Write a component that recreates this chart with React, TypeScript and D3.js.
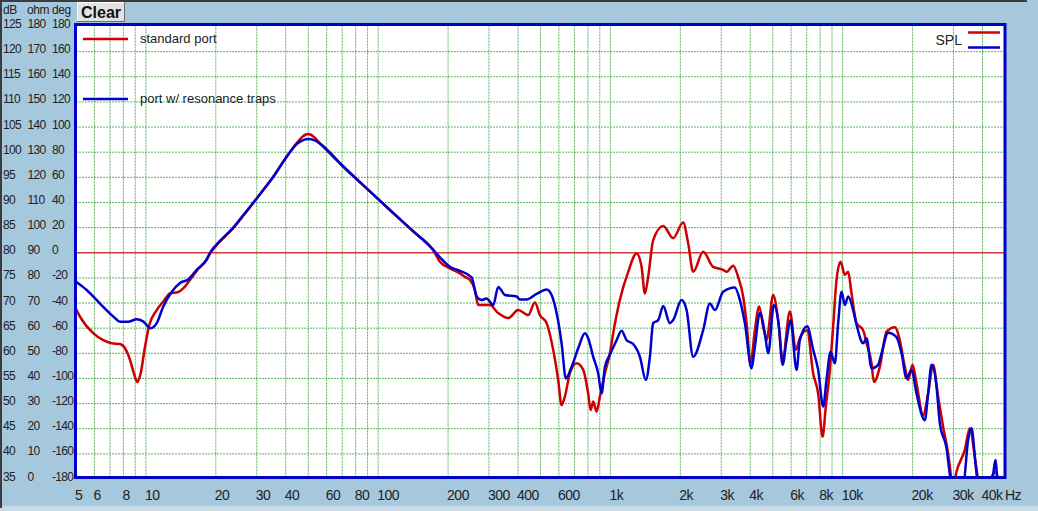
import React from 'react';
import * as d3 from 'd3';

const W = 1038;
const H = 511;

// ---- data (Hz, dB) ----
const redFreq = [5, 5.2, 5.93, 6.55, 7.12, 7.73, 8.13, 8.54, 8.88, 9.18, 9.49, 9.91, 10.34, 11.13, 11.88, 12.69, 13.78, 14.48, 15.48, 16.54, 18.26, 18.87, 21, 23.77, 26.5, 29.98, 35.35, 40.36, 44.58, 47, 50, 53, 56.1, 70.7, 89.2, 112.4, 141.6, 172.6, 184.5, 203.7, 224.9, 236.3, 248.4, 261, 269.6, 302.8, 328.7, 363.1, 400.9, 442.6, 473, 497, 531.2, 567, 595.9, 616.3, 636.8, 669, 715.1, 763.5, 802.2, 821.7, 843.2, 871.9, 901.1, 946.7, 994.9, 1028, 1098, 1193, 1296, 1362, 1407, 1454, 1528, 1688, 1863, 2057, 2162, 2272, 2508, 2769, 3059, 3164, 3376, 3548, 3729, 3857, 4013, 4187, 4370, 4547, 4702, 5020, 5275, 5511, 5923, 6288, 6539, 7028, 7465, 7843, 8194, 8463, 8808, 9099, 9411, 9792, 10220, 10560, 10920, 11475, 12250, 12674, 13315, 13624, 14456, 15452, 16773, 17625, 18524, 19140, 19991, 20796, 22205, 23334, 24521, 25762, 27072, 28445, 29423, 29900, 30917, 33564, 35270, 37067, 38300, 39500, 42500, 43745, 45954, 47014, 50000];
const redDb = [68.8, 67.3, 64.0, 62.6, 62.0, 61.85, 61.0, 58.7, 56.0, 54.3, 56.0, 61.3, 65.6, 68.6, 70.3, 71.9, 72.2, 72.9, 74.6, 76.4, 78.6, 79.8, 82.4, 84.9, 87.6, 90.8, 95.1, 99.1, 101.8, 103.0, 103.6, 103.0, 101.8, 97.1, 92.8, 88.5, 84.2, 80.5, 78.2, 76.9, 75.9, 75.2, 74.6, 72.6, 69.6, 69.6, 68.0, 67.0, 68.6, 67.6, 70.1, 67.6, 66.0, 60.7, 54.7, 49.7, 51.4, 56.0, 58.0, 56.7, 52.0, 48.7, 50.4, 48.4, 51.4, 56.0, 60.0, 64.0, 70.6, 76.2, 79.85, 77.2, 71.9, 75.2, 82.5, 85.3, 82.9, 86.0, 81.9, 76.2, 80.2, 77.2, 76.6, 76.2, 77.4, 75.2, 71.3, 66.0, 58.0, 64.6, 69.3, 65.3, 62.6, 71.6, 66.6, 58.7, 68.3, 60.7, 63.0, 64.6, 56.0, 52.0, 43.4, 49.4, 56.7, 65.3, 74.6, 78.2, 75.6, 76.2, 71.9, 66.0, 64.6, 62.0, 58.0, 54.3, 57.3, 64.3, 65.2, 62.6, 57.3, 54.7, 57.7, 54.0, 47.7, 52.0, 57.7, 51.4, 45.4, 40.1, 35.0, 33.5, 36.5, 40.8, 45.1, 39.4, 35.0, 33.0, 33.5, 35.4, 36.5, 33.0, 32.0];

const blueFreq = [5, 5.56, 6.34, 7.24, 7.73, 8.4, 9.13, 9.75, 10.48, 11.13, 11.88, 12.91, 14.02, 15.22, 16.54, 18.26, 18.87, 21, 23.77, 26.5, 29.98, 35.35, 40.36, 44.58, 47, 50, 53, 56.1, 70.7, 89.2, 112.4, 141.6, 172.6, 184.5, 203.7, 224.9, 252.6, 265.4, 278.9, 293.1, 312.9, 328.7, 351.5, 394.6, 407.7, 435.6, 481, 531.2, 558.2, 586.5, 616.3, 643.1, 680.5, 726.6, 776.5, 802.2, 843.2, 886, 916.2, 946.7, 994.9, 1063, 1117, 1174, 1253, 1340, 1421, 1479, 1528, 1606, 1688, 1803, 1863, 2025, 2128, 2272, 2508, 2680, 2817, 3059, 3434, 3609, 3792, 4053, 4187, 4400, 4624, 4778, 5055, 5326, 5511, 5734, 5964, 6331, 6539, 7028, 7465, 7843, 8243, 8521, 8869, 9254, 9562, 9890, 10220, 10560, 11095, 11543, 12250, 12674, 13315, 14217, 14701, 15699, 17058, 17927, 18837, 19795, 20796, 22581, 23334, 24134, 25357, 26201, 28003, 29133, 30000, 33000, 34677, 35874, 37433, 38300, 43500, 45637, 46553, 50000];
const blueDb = [74.25, 72.6, 69.9, 67.3, 66.3, 66.3, 66.75, 66.3, 65.0, 66.0, 69.3, 72.2, 74.0, 74.7, 76.6, 78.7, 80.0, 82.5, 85.0, 87.7, 90.8, 95.1, 99.1, 101.6, 102.3, 102.6, 102.4, 101.7, 97.2, 92.8, 88.5, 84.3, 80.6, 79.1, 77.2, 76.4, 75.1, 71.3, 70.6, 70.9, 69.6, 73.2, 71.6, 71.3, 70.7, 70.7, 71.8, 72.7, 71.6, 68.0, 62.0, 55.0, 57.3, 61.0, 64.0, 63.0, 59.3, 56.0, 52.0, 57.3, 59.7, 62.6, 64.5, 62.6, 61.85, 59.3, 54.7, 59.3, 66.0, 66.6, 69.4, 66.0, 66.6, 70.6, 68.6, 59.3, 64.6, 69.9, 68.6, 72.25, 73.1, 70.6, 66.0, 57.0, 61.3, 68.0, 64.0, 60.0, 69.6, 65.0, 57.7, 62.6, 66.6, 56.7, 62.6, 65.4, 60.7, 56.7, 49.4, 54.7, 60.3, 58.0, 66.0, 72.25, 69.6, 71.3, 68.6, 65.2, 62.0, 63.0, 57.0, 57.7, 60.0, 64.1, 63.2, 60.0, 55.0, 56.7, 52.0, 46.7, 52.0, 57.7, 53.4, 46.1, 41.1, 35.0, 33.0, 33.5, 42.75, 45.1, 37.45, 34.0, 33.5, 38.8, 33.5, 32.0];

const xLabelValues = [5, 6, 8, 10, 20, 30, 40, 60, 80, 100, 200, 300, 400, 600, 1000, 2000, 3000, 4000, 6000, 8000, 10000, 20000, 30000, 40000];
const xLabelTexts = ['5', '6', '8', '10', '20', '30', '40', '60', '80', '100', '200', '300', '400', '600', '1k', '2k', '3k', '4k', '6k', '8k', '10k', '20k', '30k', '40k'];
const dbTicks = [125, 120, 115, 110, 105, 100, 95, 90, 85, 80, 75, 70, 65, 60, 55, 50, 45, 40, 35];
const ohmTicks = [180, 170, 160, 150, 140, 130, 120, 110, 100, 90, 80, 70, 60, 50, 40, 30, 20, 10, 0];
const degTicks = [180, 160, 140, 120, 100, 80, 60, 40, 20, 0, -20, -40, -60, -80, -100, -120, -140, -160, -180];

const seriesNames = ['standard port', 'port w/ resonance traps'];
const seriesColors = ['#cc0000', '#0000cc'];

const FONT = '"Liberation Sans", Arial, sans-serif';

export default function App() {
  const L = 76, R = 1005, T = 26.5, B = 479;
  const x = d3.scaleLog().domain([5, 50000]).range([L, R]);
  const y = d3.scaleLinear().domain([35, 125]).range([B, T]);

  const gridF: number[] = [];
  for (let dec = 1; dec <= 10000; dec *= 10) {
    for (let m = 1; m <= 9; m++) {
      const f = m * dec;
      if (f > 5 && f < 50000) gridF.push(f);
    }
  }
  const gridDb = dbTicks.filter((d) => d > 35 && d < 125 && d !== 80);

  const line = d3
    .line<[number, number]>()
    .x((d) => x(d[0]))
    .y((d) => y(d[1]))
    .curve(d3.curveMonotoneX);

  const redPts: [number, number][] = redFreq.map((f, i) => [f, redDb[i]]);
  const bluePts: [number, number][] = blueFreq.map((f, i) => [f, blueDb[i]]);

  return (
    <svg width={W} height={H} style={{ position: 'absolute', left: 0, top: 0 }} fontFamily={FONT}>
      <defs>
        <clipPath id="plotclip">
          <rect x={L} y={T - 1} width={R - L} height={B - T + 1} />
        </clipPath>
      </defs>
      <rect x={0} y={0} width={W} height={H} fill="#a6c8dd" />
      <rect x={0} y={506} width={W} height={5} fill="#c9dbe7" />
      <line x1={0} y1={1} x2={1027} y2={1} stroke="#3c3c3c" strokeWidth={2} />
      <line x1={1} y1={0} x2={1} y2={508} stroke="#3c3c3c" strokeWidth={2} />

      <rect x={L} y={T - 2} width={R - L} height={B - T + 2} fill="#ffffff" />

      {gridF.map((f) => (
        <line key={'vx' + f} x1={x(f)} x2={x(f)} y1={T - 1} y2={B} stroke="#2a9d2a" strokeWidth={1} strokeDasharray="2,1" opacity={0.75} />
      ))}
      {gridDb.map((d) => (
        <line key={'hy' + d} x1={L} x2={R} y1={y(d)} y2={y(d)} stroke="#2a9d2a" strokeWidth={1} strokeDasharray="2,1" opacity={0.75} />
      ))}
      <line x1={L} x2={R} y1={y(80)} y2={y(80)} stroke="#cc3b3b" strokeWidth={1.6} />

      <g clipPath="url(#plotclip)" fill="none" strokeWidth={2.5} strokeLinejoin="round">
        <path d={line(redPts) || ''} stroke={seriesColors[0]} />
        <path d={line(bluePts) || ''} stroke={seriesColors[1]} />
      </g>

      {/* legend */}
      <line x1={83} x2={128} y1={39} y2={39} stroke={seriesColors[0]} strokeWidth={2.5} />
      <text x={140} y={43} fontSize={13} fill="#222">{seriesNames[0]}</text>
      <line x1={83} x2={128} y1={99} y2={99} stroke={seriesColors[1]} strokeWidth={2.5} />
      <text x={140} y={103} fontSize={13} fill="#222">{seriesNames[1]}</text>

      <text x={962} y={45} fontSize={14} fill="#222" textAnchor="end">SPL</text>
      <line x1={968} x2={1000} y1={32.5} y2={32.5} stroke={seriesColors[0]} strokeWidth={2.5} />
      <line x1={968} x2={1000} y1={47.5} y2={47.5} stroke={seriesColors[1]} strokeWidth={2.5} />

      {/* border */}
      <rect x={L - 0.5} y={T - 2} width={R - L + 0.5} height={B - T + 0.5} fill="none" stroke="#0000c8" strokeWidth={3} />

      {/* left labels */}
      <text x={3} y={14} fontSize={12} fill="#222" letterSpacing={-0.4}>dB</text>
      <text x={27} y={14} fontSize={12} fill="#222" letterSpacing={-0.4}>ohm</text>
      <text x={52} y={14} fontSize={12} fill="#222" letterSpacing={-0.4}>deg</text>
      {dbTicks.map((d, i) => (
        <g key={'yl' + d} fontSize={12} fill="#222" letterSpacing={-0.7}>
          <text x={3} y={y(d) + 1.5}>{d}</text>
          <text x={27.5} y={y(d) + 1.5}>{ohmTicks[i]}</text>
          <text x={52} y={y(d) + 1.5}>{degTicks[i]}</text>
        </g>
      ))}

      {/* bottom labels */}
      {xLabelValues.map((f, i) => (
        <text key={'xl' + f} x={x(f) - 1} y={500} fontSize={14} fill="#222" letterSpacing={-0.5}>
          {xLabelTexts[i]}
        </text>
      ))}
      <text x={1005} y={500} fontSize={14} fill="#222" letterSpacing={-0.5}>Hz</text>

      {/* Clear button */}
      <rect x={77} y={2} width={48} height={20} fill="#e2e2e2" />
      <line x1={77} y1={2.5} x2={125} y2={2.5} stroke="#ffffff" />
      <line x1={77.5} y1={2} x2={77.5} y2={22} stroke="#ffffff" />
      <line x1={77} y1={21.5} x2={125} y2={21.5} stroke="#6e6e6e" />
      <line x1={124.5} y1={2} x2={124.5} y2={22} stroke="#6e6e6e" />
      <text x={101} y={18} fontSize={16} fontWeight="bold" textAnchor="middle" fill="#111">Clear</text>
    </svg>
  );
}
